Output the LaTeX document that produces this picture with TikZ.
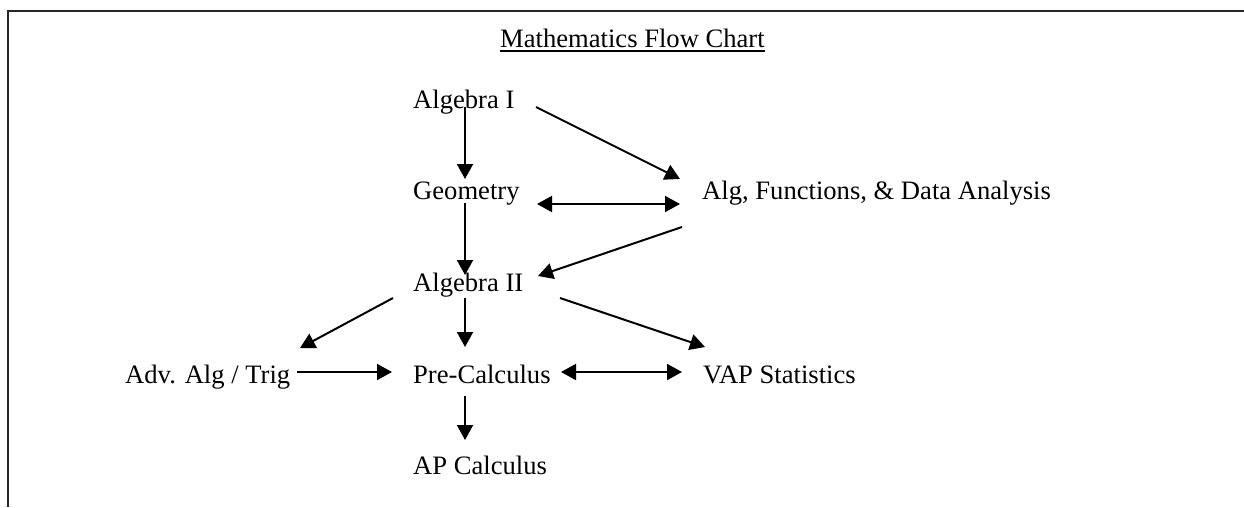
\documentclass[tikz,border=0pt]{standalone}
\usepackage{fontspec}
\setmainfont{Liberation Serif}
\usetikzlibrary{arrows.meta}
\begin{document}
\begin{tikzpicture}[x=1pt,y=-1pt,
  lbl/.style={anchor=base west,inner sep=0pt,font=\fontsize{26.6}{30}\selectfont},
  arr/.style={line width=2pt,-{Triangle[length=15pt,width=16pt]}},
  darr/.style={line width=2pt,{Triangle[length=15pt,width=16pt]}-{Triangle[length=15pt,width=16pt]}},
  frame/.style={line width=2.2pt,draw=black!85}]
\useasboundingbox (0,0) rectangle (1244,507);
\draw[frame] (8,507) -- (8,11) -- (1244,11);
% labels
\node[lbl] (title) at (500,47) {Mathematics Flow Chart};
\draw[line width=1.5pt] ([yshift=-4pt]title.base west) -- ([yshift=-4pt]title.base east);
\node[lbl] (alg1) at (413,108) {Algebra I};
\node[lbl] (geom) at (413,199) {Geometry};
\node[lbl] (afda) at (702,199) {Alg, Functions, \& Data Analysis};
\node[lbl] (alg2) at (413,291) {Algebra II};
\node[lbl] (adv) at (125,383) {Adv. Alg / Trig};
\node[lbl] (pc) at (413,383) {Pre-Calculus};
\node[lbl] (vap) at (703,383) {VAP Statistics};
\node[lbl] (ap) at (413,474) {AP Calculus};
% connector ends
\coordinate (alg1-s) at (465,107);
\coordinate (alg1-e) at (536,107);
\coordinate (geom-n) at (465,179);
\coordinate (geom-s) at (465,203);
\coordinate (geom-e) at (537,204);
\coordinate (afda-w) at (680,204);
\coordinate (afda-nw) at (680,179);
\coordinate (afda-sw) at (682,227);
\coordinate (alg2-ne) at (538,276);
\coordinate (alg2-n) at (465,275);
\coordinate (alg2-s) at (465,298);
\coordinate (alg2-sw) at (393,298);
\coordinate (alg2-se) at (560,298);
\coordinate (adv-ne) at (300,348);
\coordinate (adv-e) at (297,372);
\coordinate (pc-w) at (392,372);
\coordinate (pc-n) at (465,347);
\coordinate (pc-e) at (561,372);
\coordinate (pc-s) at (465,396);
\coordinate (vap-w) at (682,372);
\coordinate (vap-nw) at (705,347);
\coordinate (ap-n) at (465,440);
% connectors
\draw[arr] (alg1-s) -- (geom-n);
\draw[arr] (alg1-e) -- (afda-nw);
\draw[darr] (geom-e) -- (afda-w);
\draw[arr] (geom-s) -- (alg2-n);
\draw[arr] (afda-sw) -- (alg2-ne);
\draw[arr] (alg2-sw) -- (adv-ne);
\draw[arr] (alg2-s) -- (pc-n);
\draw[arr] (alg2-se) -- (vap-nw);
\draw[arr] (adv-e) -- (pc-w);
\draw[darr] (pc-e) -- (vap-w);
\draw[arr] (pc-s) -- (ap-n);
\end{tikzpicture}
\end{document}
